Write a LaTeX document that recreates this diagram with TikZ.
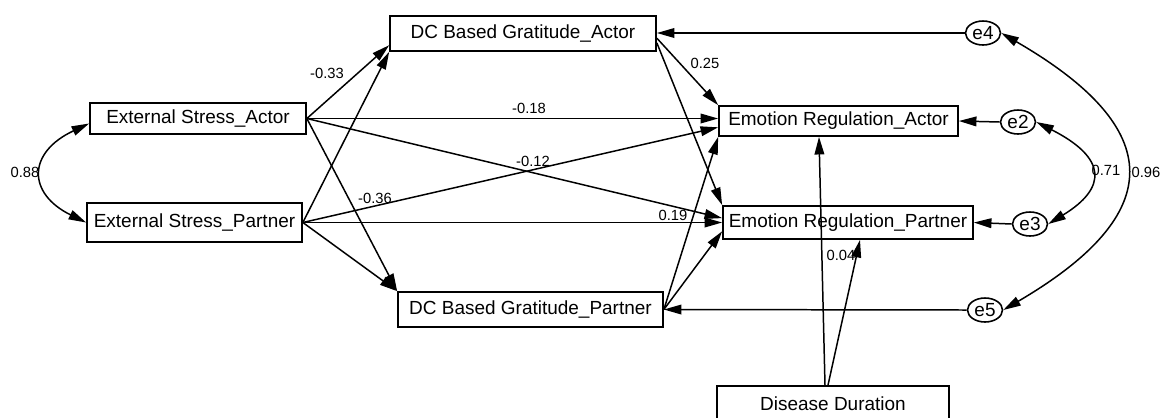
\documentclass[tikz,border=0pt]{standalone}
\usepackage{fontspec}
\setmainfont{Liberation Sans}
\usetikzlibrary{arrows.meta,shapes.geometric}

\begin{document}
\begin{tikzpicture}[x=0.02cm, y=-0.02cm,
  box/.style={draw, line width=1pt, inner sep=0pt, font=\fontsize{10.8}{13}\selectfont},
  err/.style={draw, ellipse, line width=0.9pt, inner sep=0pt, minimum width=0.70cm, minimum height=0.48cm, font=\fontsize{10.8}{12}\selectfont},
  arr/.style={line width=0.85pt, -{Triangle[length=10pt,width=5.5pt]}},
  cov/.style={line width=0.85pt, {Triangle[length=10pt,width=5.5pt]}-{Triangle[length=10pt,width=5.5pt]}},
  coef/.style={font=\fontsize{8.4}{10}\selectfont}]

\useasboundingbox (0,0) rectangle (1160,417);

% ---- Observed variables ----
\node[box, minimum width=4.32cm, minimum height=0.62cm] (esa) at (198,118.5) {External Stress\_Actor};
\node[box, minimum width=4.30cm, minimum height=0.78cm] (esp) at (194.5,222.5) {External Stress\_Partner};
\node[box, minimum width=5.32cm, minimum height=0.70cm] (dga) at (523,33.5) {DC Based Gratitude\_Actor};
\node[box, minimum width=5.30cm, minimum height=0.70cm] (dgp) at (530.5,309.5) {DC Based Gratitude\_Partner};
\node[box, minimum width=4.78cm, minimum height=0.60cm] (era) at (838.5,121) {Emotion Regulation\_Actor};
\node[box, minimum width=5.00cm, minimum height=0.66cm] (erp) at (848,222.5) {Emotion Regulation\_Partner};
\node[box, minimum width=4.64cm, minimum height=0.70cm] (dd) at (833,403.5) {Disease Duration};

% ---- Residuals ----
\node[err] (e4) at (983,33) {e4};
\node[err] (e2) at (1018,122) {e2};
\node[err] (e3) at (1030,224) {e3};
\node[err] (e5) at (985,310) {e5};

% Stress -> gratitude
\draw[arr] (esa.east) -- (dga.185);
\draw[arr] (esp.east) -- (dga.south west);
\draw[arr] (esa.east) -- (dgp.north west);
\draw[arr] (esp.east) -- (dgp.north west);

% Stress -> emotion regulation
\draw[arr] (esa.east) -- (esa.east -| era.west);
\draw[arr] (esa.east) -- (erp.178);
\draw[arr] (esp.east) -- (era.183);
\draw[arr] (esp.east) -- (erp.west);

% Gratitude -> emotion regulation
\draw[arr] (dga.-2) -- (era.north west);
\draw[arr] (dga.-4) -- (erp.north west);
\draw[arr] (dgp.east) -- (era.south west);
\draw[arr] (dgp.east) -- (erp.184);

% Covariate
\draw[arr] ([xshift=-0.16cm]dd.north) -- ([xshift=-0.39cm]era.south);
\draw[arr] ([xshift=-0.1cm]dd.north) -- ([xshift=0.24cm]erp.south);

% Residual paths
\draw[arr] (e4.west) -- (e4.west -| dga.east);
\draw[arr] (e2.west) -- (era.east);
\draw[arr] (e3.west) -- (erp.east);
\draw[arr] (e5.west) -- (dgp.east);

% Covariances
\draw[cov] ([yshift=-0.1cm]esa.west) .. controls +(-62,29) and +(-59,-29) .. (esp.west);
\draw[cov] (e4.east) .. controls +(166,96) and +(164,-96) .. (e5.east);
\draw[cov] (e2.east) .. controls +(71,36) and +(59,-36) .. (e3.east);

% Coefficients
\foreach \val/\xp/\yp [count=\i] in {0.88/25/172, -0.33/327/73, -0.18/529/108, -0.12/533/161,
    -0.36/375/198, 0.19/673/215, 0.25/705/63, 0.04/841/255, 0.71/1106/170, 0.96/1146/172}
  \node[coef] (coef\i) at (\xp,\yp) {\val};

\end{tikzpicture}
\end{document}
